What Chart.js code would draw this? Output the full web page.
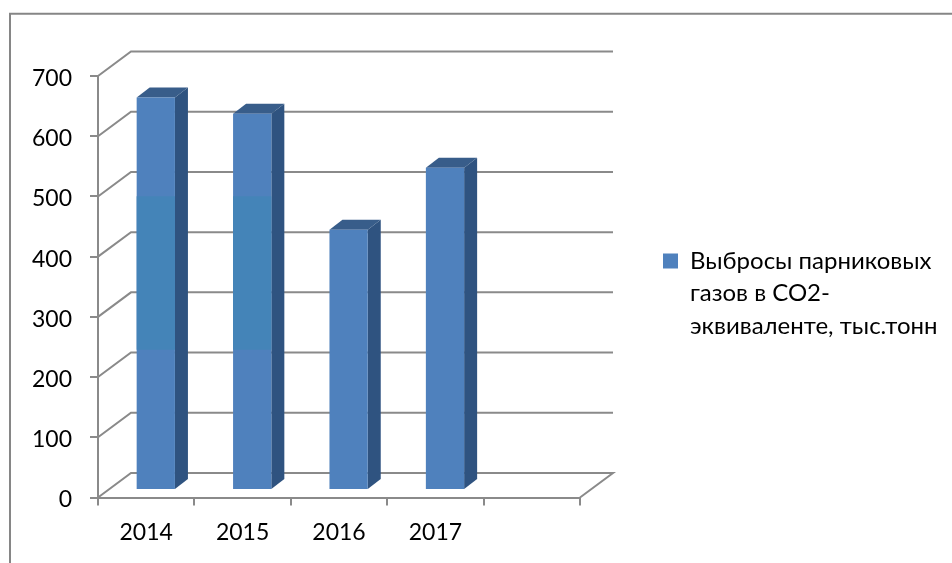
<!DOCTYPE html>
<html><head><meta charset="utf-8">
<style>html,body{margin:0;padding:0;background:#fff}#w{position:relative;width:952px;height:563px}canvas{filter:blur(0.4px)}</style>
<script src="https://cdn.jsdelivr.net/npm/chart.js@4"></script>
</head><body><div id="w"><canvas id="c" width="952" height="563"></canvas></div>
<script>
const categories = ['2014', '2015', '2016', '2017', ''];
const emissions = [652, 625, 432, 535, null];
const bandRange = [233, 488];
const bandValues = [bandRange, bandRange, null, null, null];
const seriesName = ['Выбросы парниковых', 'газов в СО2-', 'эквиваленте, тыс.тонн'];
const yTicks = [0, 100, 200, 300, 400, 500, 600, 700];

const FONT = "'Lato','Open Sans',sans-serif";
const GRID = '#8a8a8a';
const FRONT = '#4F81BD', SIDE = '#2F5380', TOP = '#385D8A', BAND = '#4484B8';
const wall = {dx: 33, dy: -24.5};
const shift = {dx: 9.6, dy: -7.5};
const depth = {dx: 13, dy: -10};

const threeD = {
  id: 'threeD',
  afterLayout(chart) {
    const l = chart.legend;
    l.left = 653; l.right = 952; l.top = 239; l.bottom = 563; l.width = 299; l.height = 324;
  },
  beforeDraw(chart) {
    const ctx = chart.ctx;
    ctx.save();
    ctx.fillStyle = '#fff'; ctx.fillRect(0, 0, 952, 563);
    ctx.strokeStyle = '#868686'; ctx.lineWidth = 2;
    ctx.beginPath(); ctx.moveTo(10, 563); ctx.lineTo(10, 13.7); ctx.lineTo(952, 13.7); ctx.stroke();
    ctx.restore();
    const ys = chart.scales.y;
    if (!ys._nudged && ys.getLabelItems) {
      ys.getLabelItems(chart.chartArea).forEach(it => { it.options.translation[1] += 2.5; });
      ys._nudged = true;
    }
  },
  beforeDatasetsDraw(chart) {
    const ctx = chart.ctx, y = chart.scales.y, a = chart.chartArea;
    ctx.save();
    ctx.strokeStyle = GRID; ctx.lineWidth = 2;
    yTicks.forEach(v => {
      const p = y.getPixelForValue(v);
      ctx.beginPath();
      ctx.moveTo(a.left, p);
      ctx.lineTo(a.left + wall.dx, p + wall.dy);
      ctx.lineTo(a.right + wall.dx, p + wall.dy);
      if (v === 0) ctx.lineTo(a.right, p);
      ctx.stroke();
    });
    ctx.restore();
    ctx.save();
    ctx.translate(shift.dx, shift.dy);
    chart.getDatasetMeta(0).data.forEach((bar, i) => {
      if (emissions[i] == null) return;
      const hw = bar.width / 2, l = bar.x - hw, r = bar.x + hw;
      ctx.fillStyle = SIDE;
      ctx.beginPath();
      ctx.moveTo(r, bar.y); ctx.lineTo(r + depth.dx, bar.y + depth.dy);
      ctx.lineTo(r + depth.dx, bar.base + depth.dy); ctx.lineTo(r, bar.base);
      ctx.closePath(); ctx.fill();
      ctx.fillStyle = TOP;
      ctx.beginPath();
      ctx.moveTo(l, bar.y); ctx.lineTo(l + depth.dx, bar.y + depth.dy);
      ctx.lineTo(r + depth.dx, bar.y + depth.dy); ctx.lineTo(r, bar.y);
      ctx.closePath(); ctx.fill();
    });
  },
  afterDatasetsDraw(chart) { chart.ctx.restore(); }
};

new Chart(document.getElementById('c'), {
  type: 'bar',
  data: {
    labels: categories,
    datasets: [
      {label: seriesName.join(' '), data: emissions, backgroundColor: FRONT, barPercentage: 0.397, categoryPercentage: 1, grouped: false, order: 2},
      {label: 'band', data: bandValues, backgroundColor: BAND, barPercentage: 0.397, categoryPercentage: 1, grouped: false, order: 1}
    ]
  },
  options: {
    responsive: false,
    animation: false,
    layout: {padding: {left: 0, top: 76, right: 372, bottom: 0}},
    scales: {
      x: {
        grid: {drawOnChartArea: false, color: GRID, lineWidth: 2, tickLength: 8},
        border: {color: GRID, width: 2},
        ticks: {color: '#000', font: {family: FONT, size: 23}, padding: 13, maxRotation: 0, autoSkip: false},
        afterFit(s) { s.height = 65.5; }
      },
      y: {
        min: 0, max: 700,
        grid: {drawOnChartArea: false, color: GRID, lineWidth: 2, tickLength: 8},
        border: {color: GRID, width: 2},
        ticks: {color: '#000', font: {family: FONT, size: 23}, padding: 18, stepSize: 100},
        afterFit(s) { s.width = 98; }
      }
    },
    plugins: {
      tooltip: {enabled: false},
      legend: {
        position: 'chartArea',
        align: 'start',
        labels: {
          boxWidth: 15, boxHeight: 15,
          color: '#000',
          font: {family: FONT, size: 24, lineHeight: 1.354},
          generateLabels() {
            return [{text: seriesName, fillStyle: FRONT, strokeStyle: FRONT, lineWidth: 0, hidden: false, datasetIndex: 0}];
          }
        }
      }
    }
  },
  plugins: [threeD]
});
</script></body></html>
